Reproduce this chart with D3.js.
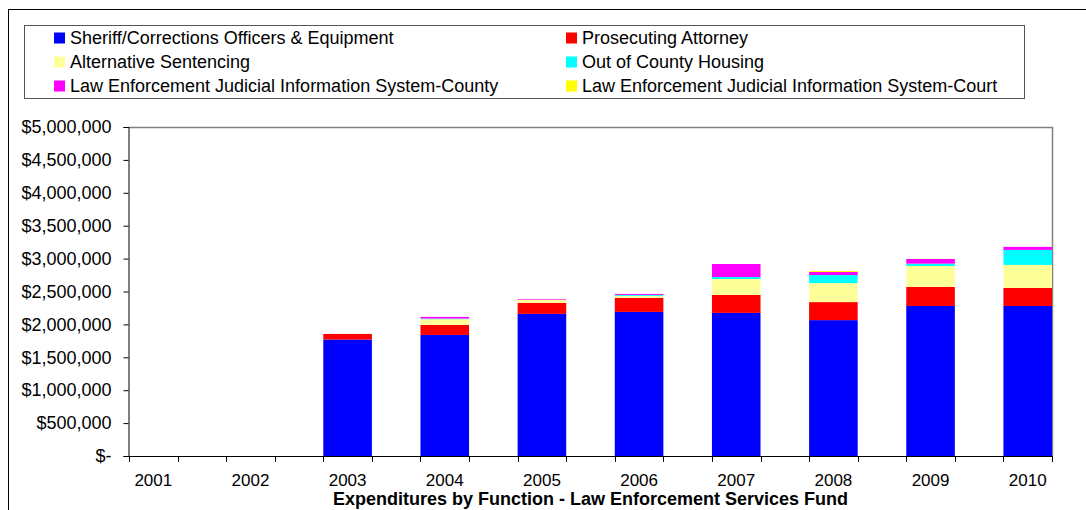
<!DOCTYPE html>
<html>
<head>
<meta charset="utf-8">
<script src="https://cdn.jsdelivr.net/npm/d3@7"></script>
<style>
  body { margin: 0; background: #fff; }
  svg { display: block; font-family: "Liberation Sans", Arial, sans-serif; }
</style>
</head>
<body>
<div id="chart"></div>
<script>
// categories
const years = ['2001', '2002', '2003', '2004', '2005', '2006', '2007', '2008', '2009', '2010'];

// series (dollars)
const sheriff     = [0, 0, 1770000, 1840000, 2160000, 2190000, 2175000, 2065000, 2280000, 2280000];
const prosecuting = [0, 0, 85000, 152000, 167000, 213000, 272000, 274000, 289000, 274000];
const alternative = [0, 0, 0, 87000, 50000, 30000, 243000, 289000, 319000, 350000];
const outOfCounty = [0, 0, 0, 10000, 0, 15000, 30000, 122000, 35000, 228000];
const lejisCounty = [0, 0, 0, 25000, 10000, 15000, 198000, 46000, 71000, 46000];
const lejisCourt  = [0, 0, 0, 0, 0, 0, 0, 15000, 0, 0];

const seriesNames = [
  'Sheriff/Corrections Officers & Equipment',
  'Prosecuting Attorney',
  'Alternative Sentencing',
  'Out of County Housing',
  'Law Enforcement Judicial Information System-County',
  'Law Enforcement Judicial Information System-Court'
];
const seriesValues = [sheriff, prosecuting, alternative, outOfCounty, lejisCounty, lejisCourt];
const colors = ['#0000FF', '#FF0000', '#FFFF99', '#00FFFF', '#FF00FF', '#FFFF00'];

const yTicks = [0, 500000, 1000000, 1500000, 2000000, 2500000, 3000000, 3500000, 4000000, 4500000, 5000000];

const title = 'Expenditures by Function - Law Enforcement Services Fund';

// table for d3.stack
const table = years.map((y, i) => {
  const row = { year: y };
  seriesNames.forEach((s, j) => { row[s] = seriesValues[j][i]; });
  return row;
});

const width = 1086, height = 510;
const plot = { left: 129, right: 1052, top: 127, bottom: 456 };

const svg = d3.select('#chart').append('svg')
  .attr('width', width)
  .attr('height', height);

// outer chart border
svg.append('rect')
  .attr('x', 8.5).attr('y', 9.5)
  .attr('width', 1200).attr('height', 600)
  .attr('fill', 'none').attr('stroke', '#000');

// scales
const x = d3.scaleBand()
  .domain(years)
  .range([plot.left, plot.right])
  .paddingInner(0.5)
  .paddingOuter(0)
  .align(0);

const y = d3.scaleLinear()
  .domain([0, 5000000])
  .range([plot.bottom, plot.top]);

// plot frame (top and right, gray)
svg.append('path')
  .attr('d', `M${plot.left},${plot.top + 0.5}H${plot.right + 0.5}V${plot.bottom}`)
  .attr('fill', 'none')
  .attr('stroke', '#808080')
  .attr('stroke-width', 1.5);

// stacked bars
const stack = d3.stack().keys(seriesNames);
const layers = stack(table);

svg.append('g').selectAll('g')
  .data(layers)
  .enter().append('g')
  .attr('fill', (d, i) => colors[i])
  .selectAll('rect')
  .data(d => d)
  .enter().append('rect')
  .attr('x', d => x(d.data.year))
  .attr('y', d => y(d[1]))
  .attr('width', x.bandwidth())
  .attr('height', d => y(d[0]) - y(d[1]));

// y axis
const fmt = d3.format(',');
const yAxis = svg.append('g')
  .attr('transform', `translate(${plot.left - 0.5},0)`)
  .call(d3.axisLeft(y)
    .tickValues(yTicks)
    .tickSizeOuter(0)
    .tickSize(5)
    .tickPadding(12)
    .tickFormat(d => d === 0 ? '$-' : '$' + fmt(d)));
yAxis.selectAll('text')
  .style('font-size', '18px')
  .attr('fill', '#000');
yAxis.selectAll('line, path').attr('stroke', '#000');

// x axis: labels under bars, ticks at bar edges
const xAxis = svg.append('g')
  .attr('transform', `translate(0,${plot.bottom + 0.5})`)
  .call(d3.axisBottom(x).tickSize(0).tickPadding(17).tickSizeOuter(0));
xAxis.select('.domain')
  .attr('d', `M${plot.left - 0.5},0H${plot.right + 0.5}`)
  .attr('stroke', '#000');
xAxis.selectAll('text')
  .style('font-size', '17px')
  .attr('fill', '#000');

const edges = [];
years.forEach(yr => { edges.push(x(yr)); edges.push(x(yr) + x.bandwidth()); });
svg.append('g').selectAll('line')
  .data(edges)
  .enter().append('line')
  .attr('x1', d => Math.round(d) + 0.5)
  .attr('x2', d => Math.round(d) + 0.5)
  .attr('y1', plot.bottom)
  .attr('y2', plot.bottom + 6)
  .attr('stroke', '#000');

// title
svg.append('text')
  .attr('x', (plot.left + plot.right) / 2)
  .attr('y', 505)
  .attr('text-anchor', 'middle')
  .style('font-size', '18px')
  .style('font-weight', 'bold')
  .text(title);

// legend
const legend = svg.append('g');
legend.append('rect')
  .attr('x', 24.5).attr('y', 25.5)
  .attr('width', 1000).attr('height', 73)
  .attr('fill', '#fff').attr('stroke', '#555');

const items = legend.selectAll('g.item')
  .data(seriesNames)
  .enter().append('g')
  .attr('class', 'item')
  .attr('transform', (d, i) => `translate(${i % 2 === 0 ? 54 : 566},${38 + Math.floor(i / 2) * 24})`);

items.append('rect')
  .attr('x', 0).attr('y', -5.5)
  .attr('width', 11).attr('height', 11)
  .attr('fill', (d, i) => colors[i]);

items.append('text')
  .attr('x', 16)
  .attr('dy', '0.35em')
  .style('font-size', '18px')
  .text(d => d);
</script>
</body>
</html>
